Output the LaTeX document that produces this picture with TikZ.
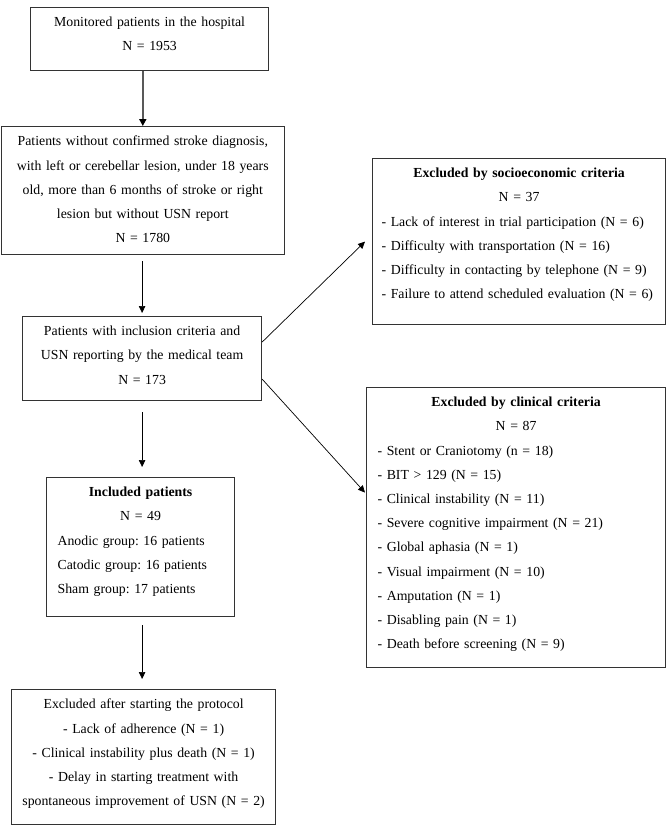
\documentclass[tikz,border=0pt]{standalone}
\usepackage{fontspec}
\setmainfont{Liberation Serif}
\usetikzlibrary{arrows.meta}
\frenchspacing
\newcommand{\padbottom}[1]{\rule[-#1pt]{0pt}{#1pt}}

\begin{document}
\begin{tikzpicture}[x=1pt, y=-1pt,
    box/.style={draw=black!80, line width=1.2pt, anchor=north west, inner xsep=6pt, inner ysep=9.5pt,
        align=center, font=\fontsize{13.8}{24.2}\selectfont},
    listbox/.style={box, inner xsep=11pt, align=left},
    arr/.style={-{Triangle[length=7pt,width=6.5pt]}, line width=0.7pt}]
    \useasboundingbox (0,0) rectangle (666,833);

    % Main column
    \node [box, text width=226pt] (monitored) at (30,7) {Monitored patients in the hospital\\ N = 1953\padbottom{10.2}};
    \node [box, text width=271pt] (notelig) at (0.7,126) {Patients without confirmed stroke diagnosis,\\ with left or cerebellar lesion, under 18 years\\ old, more than 6 months of stroke or right\\ lesion but without USN report\\ N = 1780\padbottom{2.6}};
    \node [box, text width=227pt] (eligible) at (22,316) {Patients with inclusion criteria and\\ USN reporting by the medical team\\ N = 173\padbottom{7}};
    \node [listbox, text width=166pt] (included) at (46,477) {\makebox[\linewidth]{\textbf{Included patients}}\\ \makebox[\linewidth]{N = 49}\\ Anodic group: 16 patients\\ Catodic group: 16 patients\\ Sham group: 17 patients\padbottom{13.6}};
    \node [box, text width=252pt] (dropped) at (11,689) {Excluded after starting the protocol\\ - Lack of adherence (N = 1)\\ - Clinical instability plus death (N = 1)\\ - Delay in starting treatment with\\ spontaneous improvement of USN (N = 2)\padbottom{9.6}};

    % Exclusion boxes
    \node [listbox, inner xsep=9pt, text width=275pt] (socio) at (372,158) {\makebox[\linewidth]{\textbf{Excluded by socioeconomic criteria}}\\ \makebox[\linewidth]{N = 37}\\ - Lack of interest in trial participation (N = 6)\\ - Difficulty with transportation (N = 16)\\ - Difficulty in contacting by telephone (N = 9)\\ - Failure to attend scheduled evaluation (N = 6)\padbottom{16.4}};
    \node [listbox, text width=277pt] (clinical) at (366,387) {\makebox[\linewidth]{\textbf{Excluded by clinical criteria}}\\ \makebox[\linewidth]{N = 87}\\ - Stent or Craniotomy (n = 18)\\ - BIT > 129 (N = 15)\\ - Clinical instability (N = 11)\\ - Severe cognitive impairment (N = 21)\\ - Global aphasia (N = 1)\\ - Visual impairment (N = 10)\\ - Amputation (N = 1)\\ - Disabling pain (N = 1)\\ - Death before screening (N = 9)\padbottom{9.4}};

    % Arrows
    \draw [line width=2pt, draw=black!65, -{Triangle[length=7pt,width=7pt,color=black]}] (monitored.south -| notelig.north) -- (notelig.north);
    \draw [arr, shorten <=6pt, shorten >=3pt] (notelig.south -| eligible.north) -- (eligible.north);
    \draw [arr, shorten <=11pt, shorten >=10pt] (eligible.south) -- (eligible.south |- included.north);
    \draw [arr, shorten <=8pt, shorten >=10pt] (eligible.south |- included.south) -- (eligible.south |- dropped.north);
    \draw [arr] ([yshift=-26pt]eligible.north east) -- ([xshift=-7pt]socio.west);
    \draw [arr] ([yshift=22pt]eligible.south east) -- ([xshift=-1pt,yshift=35pt]clinical.west);
\end{tikzpicture}
\end{document}
